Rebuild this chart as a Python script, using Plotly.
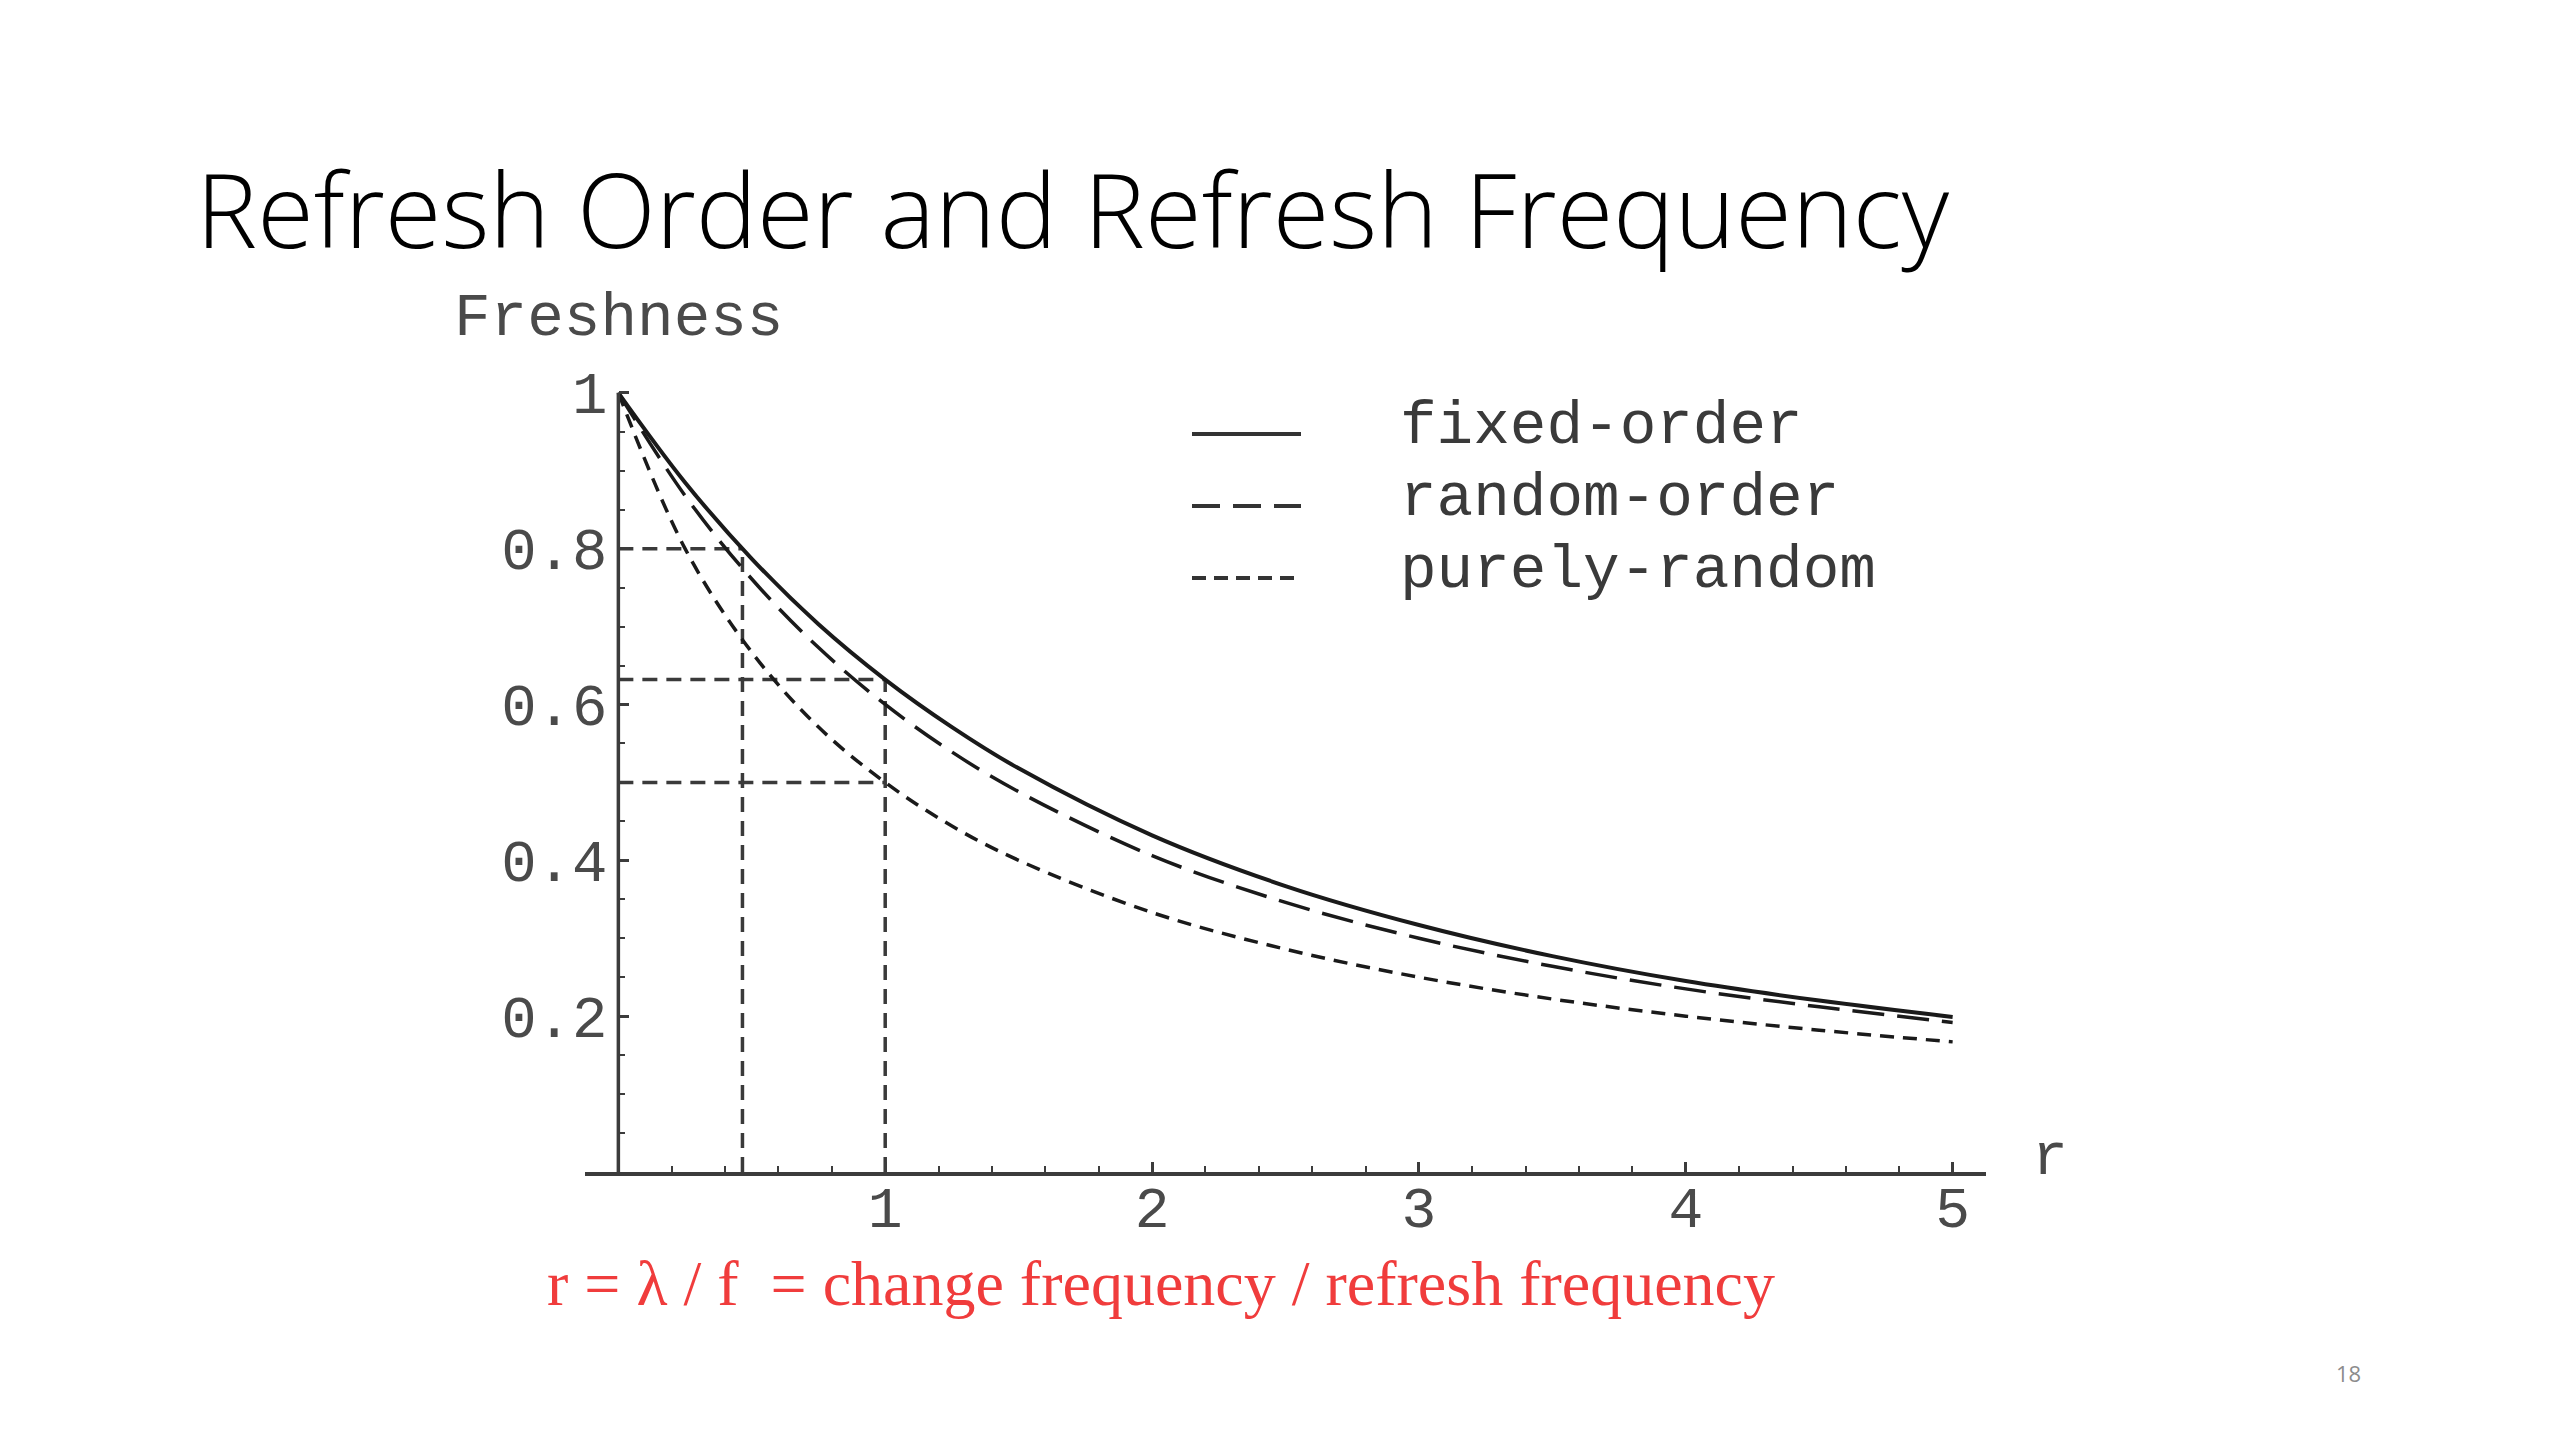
import plotly.graph_objects as go

# ---- data ----
r_vals = [0, 0.25, 0.5, 0.75, 1.0, 1.25, 1.5, 2.0, 2.5, 3.0, 3.5, 4.0, 4.5, 5.0]
fixed_order = [1.0, 0.885, 0.787, 0.703, 0.632, 0.571, 0.518, 0.432, 0.367, 0.317, 0.277, 0.245, 0.220, 0.199]
random_order = [1.0, 0.868, 0.761, 0.673, 0.600, 0.539, 0.488, 0.406, 0.346, 0.300, 0.264, 0.235, 0.212, 0.192]
purely_random = [1.0, 0.800, 0.667, 0.571, 0.500, 0.444, 0.400, 0.333, 0.286, 0.250, 0.222, 0.200, 0.182, 0.167]

# guide lines (r, freshness)
guide_r = [0.465, 1.0]
guide_f = [0.8, 0.632, 0.5]

x_ticks = [1, 2, 3, 4, 5]
x_ticktext = ["1", "2", "3", "4", "5"]
y_ticks = [0.2, 0.4, 0.6, 0.8, 1.0]
y_ticktext = ["0.2", "0.4", "0.6", "0.8", "1"]

series_names = ["fixed-order", "random-order", "purely-random"]

# ---- layout geometry (page body has an 8px margin) ----
OFF = 8
W, H = 2560, 1440
L, R, T, B = 585 - OFF, 1986 - OFF, 385 - OFF, 1172 - OFF
X_RANGE = [-0.125, 5.125]
Y_RANGE = [0, 1.01]

def px(x):
    return (x - OFF - L) / (R - L)

def py(y):
    return (B - (y - OFF)) / (B - T)

MONO = "Courier New, Liberation Mono, monospace"
INK = "#1a1a1a"
AX = "#3c3c3c"
DASH_LONG = "32px,13px"
DASH_SHORT = "14px,9px"
DASH_GUIDE = "15px,9px"

fig = go.Figure()

# guide lines
g_lines = [
    ([0, guide_r[0]], [guide_f[0], guide_f[0]]),
    ([guide_r[0], guide_r[0]], [0, guide_f[0]]),
    ([0, guide_r[1]], [guide_f[1], guide_f[1]]),
    ([guide_r[1], guide_r[1]], [0, guide_f[1]]),
    ([0, guide_r[1]], [guide_f[2], guide_f[2]]),
]
for gx, gy in g_lines:
    fig.add_trace(go.Scatter(x=gx, y=gy, mode="lines", showlegend=False, hoverinfo="skip",
                             line=dict(color="#3a3a3a", width=3.5, dash=DASH_GUIDE)))

fig.add_trace(go.Scatter(x=r_vals, y=purely_random, mode="lines", name=series_names[2], showlegend=False,
                         line=dict(color=INK, width=3.5, dash=DASH_SHORT, shape="spline", smoothing=1.0)))
fig.add_trace(go.Scatter(x=r_vals, y=random_order, mode="lines", name=series_names[1], showlegend=False,
                         line=dict(color=INK, width=3.5, dash=DASH_LONG, shape="spline", smoothing=1.0)))
fig.add_trace(go.Scatter(x=r_vals, y=fixed_order, mode="lines", name=series_names[0], showlegend=False,
                         line=dict(color=INK, width=4, shape="spline", smoothing=1.0)))

# y axis line at r = 0
fig.add_shape(type="line", xref="x", yref="y", x0=0, x1=0, y0=0, y1=1.0,
              line=dict(color=AX, width=3.5))

ypos = (0 - X_RANGE[0]) / (X_RANGE[1] - X_RANGE[0])

fig.update_layout(
    width=W, height=H,
    paper_bgcolor="white", plot_bgcolor="white",
    margin=dict(l=L, r=W - R, t=T, b=H - B),
    showlegend=False,
    xaxis=dict(range=X_RANGE, showgrid=False, zeroline=False, showline=True,
               linecolor=AX, linewidth=3.5,
               tickmode="array", tickvals=x_ticks, ticktext=x_ticktext,
               ticks="inside", ticklen=10, tickwidth=2.5, tickcolor=AX,
               ticklabelstandoff=-18,
               minor=dict(dtick=0.2, tick0=0, ticks="inside", ticklen=6, tickwidth=2, tickcolor=AX),
               tickfont=dict(family=MONO, size=58, color="#4a4a4a")),
    yaxis=dict(range=Y_RANGE, anchor="free", position=ypos, showgrid=False, zeroline=False,
               showline=False,
               tickmode="array", tickvals=y_ticks, ticktext=y_ticktext,
               ticks="inside", ticklen=10, tickwidth=2.5, tickcolor=AX,
               ticklabelstandoff=11,
               minor=dict(dtick=0.05, tick0=0, ticks="inside", ticklen=6, tickwidth=2, tickcolor=AX),
               tickfont=dict(family=MONO, size=59, color="#4a4a4a")),
)

# legend (drawn manually)
leg_y = [434, 506, 578]
leg_dash = ["solid", "28px,13px", "14px,8px"]
for i, name in enumerate(series_names):
    fig.add_shape(type="line", xref="paper", yref="paper",
                  x0=px(1192), x1=px(1301), y0=py(leg_y[i]), y1=py(leg_y[i]),
                  line=dict(color="#333333", width=4, dash=leg_dash[i]))
    fig.add_annotation(xref="paper", yref="paper", x=px(1398), y=py(leg_y[i] - 8),
                       xanchor="left", yanchor="middle", showarrow=False, text=name,
                       font=dict(family=MONO, size=61, color="#3a3a3a"))

annos = [
    dict(x=px(452), y=py(318), xanchor="left", yanchor="middle", text="Freshness",
         font=dict(family=MONO, size=61, color="#4a4a4a")),
    dict(x=px(2050), y=py(1158), xanchor="center", yanchor="middle", text="r",
         font=dict(family=MONO, size=60, color="#4a4a4a")),
    dict(x=px(194), y=py(208), xanchor="left", yanchor="middle",
         text="Refresh Order and Refresh Frequency",
         font=dict(family="Open Sans", size=103, color="#000000", weight=300)),
    dict(x=px(545), y=py(1283), xanchor="left", yanchor="middle",
         text="r = λ / f  = change frequency / refresh frequency",
         font=dict(family="Liberation Serif, Times New Roman, serif", size=64, color="#F03C3C")),
    dict(x=px(2348), y=py(1373), xanchor="center", yanchor="middle", text="18",
         font=dict(family="Open Sans", size=22, color="#8c8c8c")),
]
for a in annos:
    fig.add_annotation(xref="paper", yref="paper", showarrow=False, **a)

fig.write_html("out.html")
